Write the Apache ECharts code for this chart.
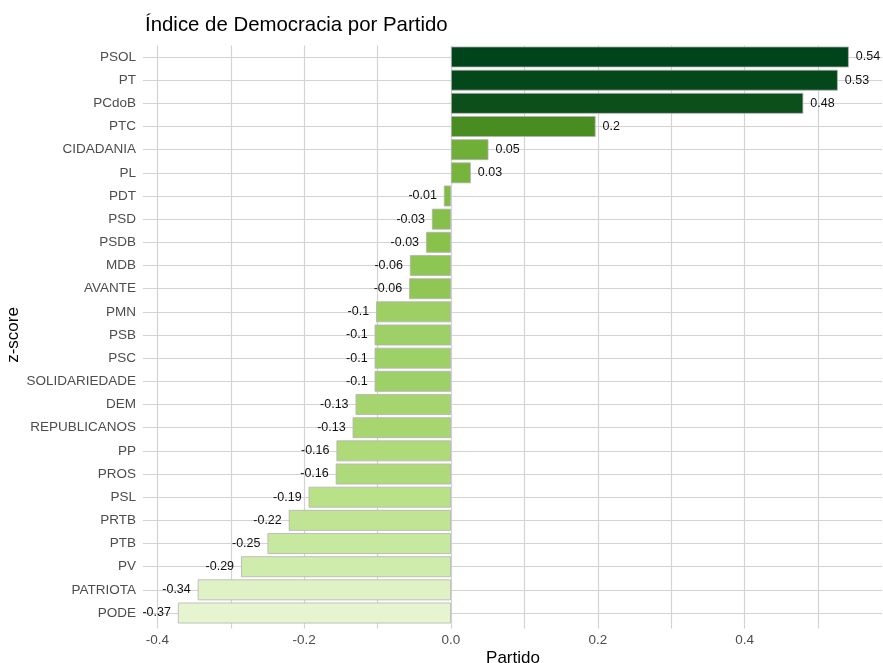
<!DOCTYPE html>
<html>
<head>
<meta charset="utf-8">
<script src="https://cdn.jsdelivr.net/npm/echarts@6/dist/echarts.min.js"></script>
<style>
  html, body { margin: 0; padding: 0; background: #fff; }
  #chart { width: 883px; height: 663px; }
</style>
</head>
<body>
<div id="chart"></div>
<script>
// parties, top to bottom
const partidos = ['PSOL', 'PT', 'PCdoB', 'PTC', 'CIDADANIA', 'PL', 'PDT', 'PSD', 'PSDB', 'MDB',
    'AVANTE', 'PMN', 'PSB', 'PSC', 'SOLIDARIEDADE', 'DEM', 'REPUBLICANOS', 'PP', 'PROS', 'PSL',
    'PRTB', 'PTB', 'PV', 'PATRIOTA', 'PODE'];
const zscore = [0.542, 0.527, 0.480, 0.197, 0.051, 0.027, -0.0097, -0.026, -0.034, -0.056,
    -0.057, -0.102, -0.104, -0.104, -0.104, -0.130, -0.134, -0.156, -0.157, -0.194,
    -0.221, -0.250, -0.286, -0.345, -0.372];
const xTicks = [-0.4, -0.3, -0.2, -0.1, 0, 0.1, 0.2, 0.3, 0.4, 0.5];
const xLabels = [-0.4, -0.2, 0, 0.2, 0.4];

// fill gradient (low -> high)
const stops = ['#e6f5d0', '#b8e186', '#7fbc41', '#4d9221', '#276419', '#00441b'];

function hex(c) {
    return [1, 3, 5].map(i => parseInt(c.slice(i, i + 2), 16));
}
function fillFor(v, lo, hi) {
    const t = (v - lo) / (hi - lo) * (stops.length - 1);
    const i = Math.min(Math.floor(t), stops.length - 2);
    const f = t - i;
    const a = hex(stops[i]), b = hex(stops[i + 1]);
    const c = a.map((x, k) => Math.round(x + (b[k] - x) * f));
    return 'rgb(' + c.join(',') + ')';
}

const lo = Math.min(...zscore), hi = Math.max(...zscore);
const fmt = v => String(Math.round(v * 100) / 100);

const barData = zscore.map(v => ({
    value: v,
    itemStyle: { color: fillFor(v, lo, hi) },
    label: { position: v >= 0 ? 'right' : 'left' }
}));

const gridColor = '#d3d3d3';
const font = 'Liberation Sans, Arial, sans-serif';
const myChart = echarts.init(document.getElementById('chart'), null, { renderer: 'canvas' });

const option = {
    backgroundColor: '#fff',
    textStyle: { fontFamily: font },
    title: {
        text: 'Índice de Democracia por Partido',
        left: 140,
        top: 10,
        textStyle: { fontSize: 20.4, fontWeight: 'normal', color: '#000' }
    },
    grid: {
        left: 143,
        right: 1,
        top: 45.4,
        height: 579.2,
        containLabel: false,
        outerBoundsMode: 'none'
    },
    // axis titles
    graphic: [
        {
            type: 'text',
            x: 513,
            y: 658,
            style: {
                text: 'Partido',
                font: '17px ' + font,
                fill: '#000',
                textAlign: 'center',
                textVerticalAlign: 'middle'
            }
        },
        {
            type: 'text',
            x: 13,
            y: 335,
            rotation: Math.PI / 2,
            style: {
                text: 'z-score',
                font: '17px ' + font,
                fill: '#000',
                textAlign: 'center',
                textVerticalAlign: 'middle'
            }
        }
    ],
    xAxis: {
        type: 'value',
        min: -0.4196,
        max: 0.5872,
        axisLine: { show: false },
        axisTick: {
            show: true,
            length: 4,
            customValues: xTicks,
            lineStyle: { color: gridColor, width: 1.2 }
        },
        axisLabel: {
            customValues: xLabels,
            margin: 9,
            fontSize: 13.5,
            color: '#4d4d4d',
            formatter: v => v.toFixed(1)
        },
        splitLine: { show: true, lineStyle: { color: gridColor, width: 1.2 } }
    },
    yAxis: {
        type: 'category',
        inverse: true,
        data: partidos,
        axisLine: { show: false },
        axisTick: {
            show: true,
            alignWithLabel: true,
            length: 4,
            lineStyle: { color: gridColor, width: 1.2 }
        },
        axisLabel: { margin: 7, fontSize: 13.5, color: '#4d4d4d' },
        splitLine: {
            show: true,
            alignWithLabel: true,
            lineStyle: { color: gridColor, width: 1.2 }
        }
    },
    series: [{
        type: 'bar',
        data: barData,
        barWidth: '90%',
        itemStyle: { borderColor: '#b3b3b3', borderWidth: 0.8 },
        label: {
            show: true,
            distance: 7,
            fontSize: 12.5,
            color: '#111',
            formatter: p => fmt(p.value)
        },
        animation: false
    }],
    animation: false
};

myChart.setOption(option);
</script>
</body>
</html>
